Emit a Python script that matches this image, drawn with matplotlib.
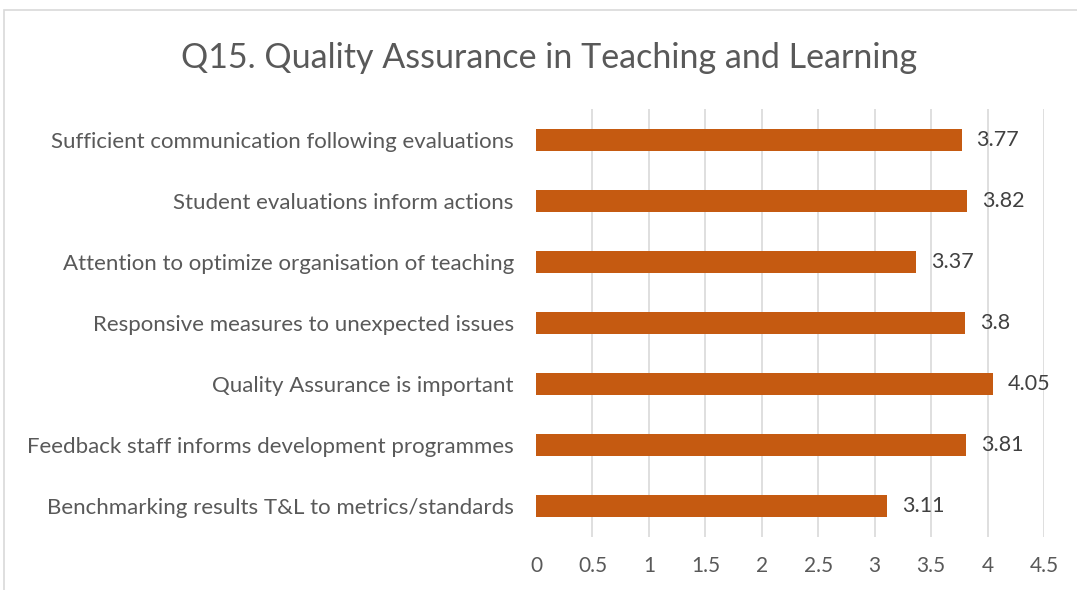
import matplotlib
matplotlib.use("Agg")
import matplotlib.pyplot as plt
from matplotlib.patches import Rectangle

categories = [
    "Benchmarking results T&L to metrics/standards",
    "Feedback staff informs development programmes",
    "Quality Assurance is important",
    "Responsive measures to unexpected issues",
    "Attention to optimize organisation of teaching",
    "Student evaluations inform actions",
    "Sufficient communication following evaluations",
]
values = [3.11, 3.81, 4.05, 3.8, 3.37, 3.82, 3.77]
value_labels = ["3.11", "3.81", "4.05", "3.8", "3.37", "3.82", "3.77"]
xticks = [0, 0.5, 1, 1.5, 2, 2.5, 3, 3.5, 4, 4.5]
xtick_labels = ["0", "0.5", "1", "1.5", "2", "2.5", "3", "3.5", "4", "4.5"]
title = "Q15. Quality Assurance in Teaching and Learning"

plt.rcParams['font.family'] = ['Lato', 'DejaVu Sans']
text_color = "#595959"
bar_color = "#C55A11"

fig = plt.figure(figsize=(10.77, 5.9), dpi=100)
fig.patches.append(Rectangle((4/1077, -0.1), 1.2, 1 - 10/590 + 0.1, transform=fig.transFigure,
                             fill=False, edgecolor="#D9D9D9", linewidth=1.2))

ax = fig.add_axes([536/1077, 1 - 537/590, (1044 - 536)/1077, (537 - 109)/590])
y = list(range(len(categories)))
ax.barh(y, values, height=0.36, color=bar_color, zorder=3)
for yi, v, lab in zip(y, values, value_labels):
    ax.text(v + 0.13, yi, lab, va="center", ha="left", fontsize=15.5, color="#404040")

ax.set_xlim(0, 4.5)
ax.set_ylim(-0.5, len(categories) - 0.5)
ax.set_xticks(xticks)
ax.set_xticklabels(xtick_labels, fontsize=15, color=text_color)
ax.set_yticks(y)
ax.set_yticklabels(categories, fontsize=16, color=text_color)
ax.tick_params(axis="both", length=0)
ax.tick_params(axis="x", pad=14)
ax.tick_params(axis="y", pad=16)
for s in ax.spines.values():
    s.set_visible(False)
ax.grid(axis="x", color="#D9D9D9", linewidth=1.2, zorder=0)
ax.xaxis.get_gridlines()[0].set_visible(False)

fig.text(549/1077, 1 - 58/590, title, ha="center", va="center", fontsize=24.5, color=text_color)

fig.savefig("out.png", dpi=100)
